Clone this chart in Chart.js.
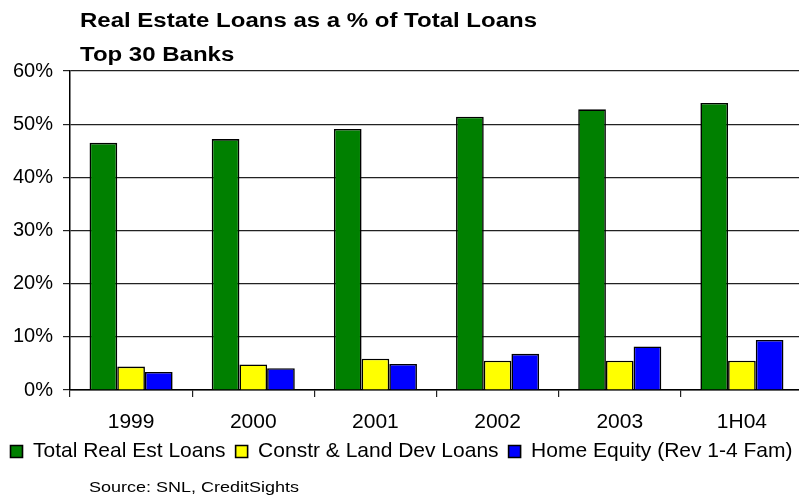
<!DOCTYPE html>
<html>
<head>
<meta charset="utf-8">
<script src="https://cdn.jsdelivr.net/npm/chart.js@4/dist/chart.umd.min.js"></script>
<style>
  html, body { margin: 0; padding: 0; background: #fff; overflow: hidden; }
  #wrap { width: 806px; height: 497px; }
</style>
</head>
<body>
<div id="wrap"><canvas id="loans"></canvas></div>
<script>
const years = ['1999', '2000', '2001', '2002', '2003', '1H04'];
const totalRealEst = [46.5, 47.2, 49.1, 51.4, 52.8, 54.0];
const constrLand = [4.4, 4.8, 5.9, 5.5, 5.5, 5.5];
const homeEquity = [3.4, 4.1, 4.9, 6.8, 8.2, 9.4];
const yTicks = [0, 10, 20, 30, 40, 50, 60];

const FONT = "'Liberation Sans', Arial, sans-serif";

// Title block and source line, drawn slightly wide like the old Excel export
const captions = {
  id: 'captions',
  afterDraw(chart) {
    const ctx = chart.ctx;
    ctx.save();
    ctx.fillStyle = '#000';
    ctx.textBaseline = 'alphabetic';
    ctx.textAlign = 'left';
    const wide = (text, x, y, font, sx) => {
      ctx.save();
      ctx.translate(x, y);
      ctx.scale(sx, 1);
      ctx.font = font;
      ctx.fillText(text, 0, 0);
      ctx.restore();
    };
    wide('Real Estate Loans as a % of Total Loans', 80, 27, 'bold 20px ' + FONT, 1.2);
    wide('Top 30 Banks', 80, 61, 'bold 20px ' + FONT, 1.2);
    wide('Source: SNL, CreditSights', 89, 492, '15px ' + FONT, 1.2);
    ctx.restore();
  }
};

new Chart(document.getElementById('loans'), {
  type: 'bar',
  data: {
    labels: years,
    datasets: [
      { label: 'Total Real Est Loans', data: totalRealEst, backgroundColor: '#008000' },
      { label: 'Constr & Land Dev Loans', data: constrLand, backgroundColor: '#ffff00' },
      { label: 'Home Equity (Rev 1-4 Fam)', data: homeEquity, backgroundColor: '#0000ff' }
    ]
  },
  options: {
    responsive: true,
    maintainAspectRatio: false,
    animation: false,
    devicePixelRatio: 1,
    layout: { padding: { top: 71, right: 3, bottom: 25, left: 0 } },
    datasets: {
      bar: {
        borderColor: '#000',
        borderWidth: 1.6,
        categoryPercentage: 0.68,
        barPercentage: 1.0
      }
    },
    scales: {
      x: {
        afterFit: scale => { scale.height = 41; },
        grid: {
          display: true,
          drawOnChartArea: false,
          offset: true,
          tickLength: 7,
          color: '#222',
          lineWidth: 1.2
        },
        border: { display: true, color: '#000', width: 1.5 },
        ticks: { color: '#000', font: { family: FONT, size: 21 }, padding: 13 }
      },
      y: {
        min: 0,
        max: 60,
        afterFit: scale => { scale.width = 70; },
        afterBuildTicks: scale => { scale.ticks = yTicks.map(v => ({ value: v })); },
        grid: { color: '#222', lineWidth: 1.2, tickLength: 7 },
        border: { display: true, color: '#000', width: 1.5 },
        ticks: {
          color: '#000',
          font: { family: FONT, size: 20 },
          padding: 10,
          callback: v => v + '%'
        }
      }
    },
    plugins: {
      title: { display: false },
      tooltip: { enabled: false },
      legend: {
        display: true,
        position: 'bottom',
        labels: {
          color: '#000',
          boxWidth: 12,
          boxHeight: 12,
          padding: 10,
          font: { family: FONT, size: 21 }
        }
      }
    }
  },
  plugins: [captions]
});
</script>
</body>
</html>
